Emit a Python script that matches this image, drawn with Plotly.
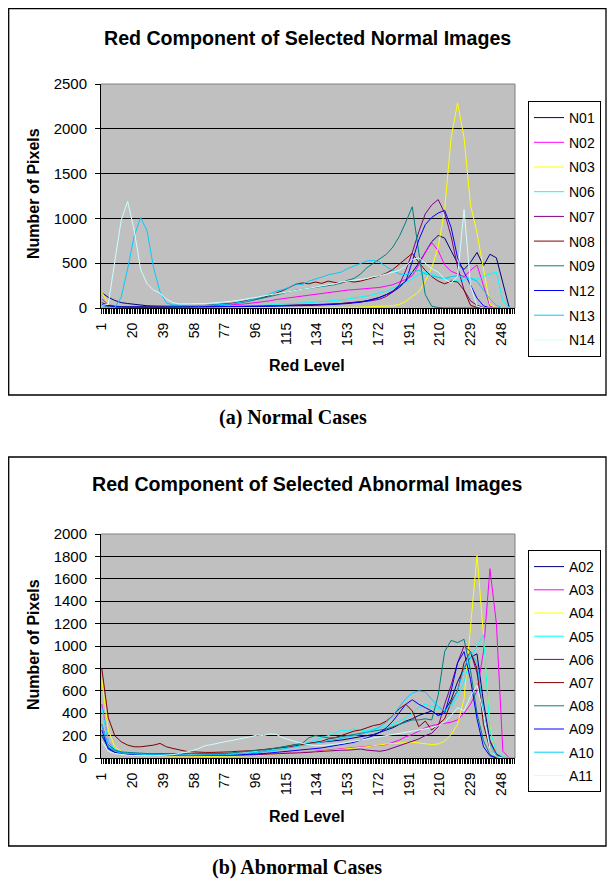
import plotly.graph_objects as go

# ---------------- data ----------------
LEVELS = [1, 5, 9, 13, 17, 21, 25, 29,
          33, 37, 41, 45, 49, 53, 57, 61,
          65, 69, 73, 77, 81, 85, 89, 93,
          97, 101, 105, 109, 113, 117, 121, 125,
          129, 133, 137, 141, 145, 149, 153, 157,
          161, 165, 169, 173, 177, 181, 185, 189,
          193, 197, 201, 205, 209, 213, 217, 221,
          225, 229, 233, 237, 241, 245, 249, 253,
          256]

X_TICK_LABELS = [1, 20, 39, 58, 77, 96, 115, 134, 153, 172, 191, 210, 229, 248]
ALL_CATEGORIES = list(range(1, 257))
Y1_TICKS = [0, 500, 1000, 1500, 2000, 2500]
Y2_TICKS = [0, 200, 400, 600, 800, 1000, 1200, 1400, 1600, 1800, 2000]

NORMAL_NAMES = ["N01", "N02", "N03", "N06", "N07", "N08", "N09", "N12", "N13", "N14"]
ABNORMAL_NAMES = ["A02", "A03", "A04", "A05", "A06", "A07", "A08", "A09", "A10", "A11"]

N01 = [170, 120, 85, 60, 50, 40, 32, 25,
       22, 18, 15, 14, 12, 12, 10, 12,
       10, 12, 14, 12, 15, 14, 16, 18,
       18, 20, 22, 20, 24, 25, 28, 30,
       32, 35, 38, 42, 45, 50, 55, 62,
       70, 82, 100, 120, 150, 180, 230, 300,
       400, 500, 620, 740, 810, 780, 640, 500,
       430, 510, 620, 470, 600, 560, 280, 0,
       0]
N02 = [100, 40, 18, 10, 8, 8, 8, 10,
       10, 12, 12, 14, 15, 16, 18, 20,
       22, 25, 28, 32, 36, 40, 45, 52,
       60, 70, 80, 95, 105, 115, 125, 135,
       140, 150, 160, 170, 180, 190, 200, 205,
       210, 215, 220, 230, 245, 260, 290, 320,
       360, 480, 620, 730, 640, 480, 410, 380,
       350, 420, 480, 250, 20, 0, 0, 0,
       0]
N03 = [180, 40, 8, 2, 0, 0, 0, 0,
       0, 0, 0, 0, 0, 0, 0, 0,
       0, 0, 0, 0, 0, 0, 0, 0,
       0, 0, 0, 0, 0, 0, 0, 2,
       2, 3, 3, 4, 5, 5, 6, 8,
       10, 12, 14, 16, 20, 25, 40, 75,
       130, 180, 300, 450, 680, 1100, 1900, 2290,
       1900, 1150, 840, 450, 40, 0, 0, 0,
       0]
N06 = [60, 25, 12, 8, 6, 6, 5, 5,
       5, 6, 6, 8, 8, 10, 10, 12,
       12, 14, 15, 16, 18, 20, 22, 25,
       28, 30, 35, 38, 42, 45, 50, 55,
       60, 65, 70, 75, 80, 90, 100, 110,
       120, 135, 150, 170, 190, 220, 250, 290,
       330, 370, 400, 380, 350, 330, 320, 300,
       310, 340, 320, 350, 380, 400, 80, 0,
       0]
N07 = [30, 15, 10, 8, 8, 8, 8, 8,
       8, 8, 10, 10, 10, 12, 12, 12,
       14, 14, 16, 16, 18, 18, 20, 20,
       22, 22, 25, 25, 28, 28, 30, 32,
       34, 36, 38, 40, 45, 50, 55, 60,
       65, 75, 85, 100, 130, 180, 260, 420,
       620, 850, 1050, 1150, 1210, 1060, 800, 460,
       200, 80, 30, 5, 0, 0, 0, 0,
       0]
N08 = [60, 30, 20, 15, 14, 14, 15, 15,
       16, 16, 18, 18, 20, 20, 22, 25,
       28, 34, 38, 45, 52, 62, 75, 90,
       105, 120, 140, 165, 195, 230, 265, 280,
       270, 290, 275, 300, 285, 280, 300, 290,
       300, 320, 340, 360, 390, 430, 490, 550,
       610, 510, 420, 350, 300, 270, 300, 290,
       200, 30, 5, 0, 0, 0, 0, 0,
       0]
N09 = [30, 20, 15, 12, 10, 10, 10, 10,
       10, 10, 12, 14, 15, 18, 20, 22,
       25, 28, 32, 38, 45, 55, 65, 80,
       95, 110, 125, 145, 165, 185, 200, 210,
       220, 230, 240, 250, 260, 280, 310, 330,
       380, 450, 500, 540, 600, 680, 800, 960,
       1130, 620, 150, 20, 5, 0, 0, 0,
       0, 0, 0, 0, 0, 0, 0, 0,
       0]
N12 = [40, 25, 15, 12, 10, 10, 10, 10,
       10, 10, 10, 10, 10, 10, 12, 12,
       12, 12, 14, 14, 14, 15, 16, 16,
       18, 18, 20, 20, 22, 22, 24, 26,
       28, 30, 32, 35, 40, 45, 50, 55,
       65, 80, 95, 120, 150, 190, 240, 300,
       520, 760, 930, 1010, 1060, 1090, 900, 560,
       400, 260, 110, 25, 0, 0, 0, 0,
       0]
N13 = [10, 5, 5, 120, 440, 800, 1010, 860,
       450, 180, 55, 35, 30, 25, 28, 25,
       30, 35, 32, 40, 45, 60, 70, 90,
       110, 130, 160, 190, 205, 230, 270, 260,
       300, 320, 345, 370, 385, 400, 440, 470,
       500, 525, 530, 510, 460, 420, 380, 370,
       400, 420, 380, 360, 340, 330, 350, 360,
       340, 330, 300, 200, 100, 30, 0, 0,
       0]
N14 = [30, 40, 520, 980, 1190, 870, 430, 270,
       200, 165, 100, 60, 45, 45, 45, 50,
       50, 55, 60, 65, 75, 85, 95, 110,
       120, 135, 150, 160, 170, 185, 200, 210,
       220, 235, 250, 260, 270, 290, 300, 310,
       320, 330, 350, 360, 380, 400, 420, 470,
       540, 560, 500, 440, 400, 320, 280, 350,
       1100, 250, 20, 0, 0, 0, 0, 0,
       0]

A02 = [200, 90, 50, 40, 35, 30, 30, 28,
       28, 25, 25, 25, 25, 22, 22, 25,
       25, 28, 28, 30, 30, 32, 35, 38,
       50, 60, 70, 85, 100, 110, 120, 125,
       130, 135, 140, 145, 150, 160, 170, 180,
       190, 200, 210, 230, 250, 270, 300, 330,
       350, 380, 400, 420, 380, 420, 520, 680,
       800, 900, 930, 500, 150, 30, 0, 0,
       0]
A03 = [480, 150, 70, 50, 40, 35, 30, 30,
       28, 25, 25, 22, 22, 20, 20, 20,
       20, 20, 22, 22, 24, 25, 25, 28,
       30, 32, 35, 38, 40, 45, 48, 50,
       55, 60, 65, 70, 75, 80, 85, 90,
       95, 100, 105, 110, 120, 140, 160, 190,
       210, 240, 270, 290, 300, 310, 320, 340,
       400, 480, 600, 950, 1690, 1200, 60, 0,
       0]
A04 = [700, 250, 100, 60, 45, 35, 30, 25,
       22, 20, 20, 18, 18, 16, 15, 15,
       15, 15, 15, 15, 16, 18, 20, 22,
       25, 28, 30, 32, 35, 38, 40, 45,
       50, 55, 60, 65, 70, 75, 80, 90,
       95, 100, 110, 120, 125, 130, 135, 140,
       140, 135, 125, 120, 125, 150, 210, 300,
       530, 1150, 1810, 1100, 270, 10, 0, 0,
       0]
A05 = [450, 150, 80, 55, 45, 40, 38, 35,
       32, 30, 30, 28, 28, 26, 25, 25,
       25, 26, 28, 30, 32, 35, 40, 45,
       50, 60, 70, 80, 90, 100, 110, 125,
       140, 160, 180, 200, 220, 250, 240, 260,
       250, 240, 260, 270, 280, 300, 330, 360,
       400, 450, 480, 460, 440, 420, 450, 550,
       680, 900, 1000, 1100, 250, 50, 10, 0,
       0]
A06 = [300, 100, 60, 45, 40, 35, 30, 30,
       28, 26, 25, 25, 24, 22, 22, 22,
       22, 22, 22, 24, 24, 25, 26, 28,
       30, 32, 34, 36, 38, 40, 45, 48,
       50, 55, 60, 60, 65, 70, 70, 75,
       80, 70, 65, 60, 70, 90, 110, 130,
       150, 170, 200, 220, 280, 480, 650, 850,
       1000, 950, 760, 400, 155, 36, 0, 0,
       0]
A07 = [800, 360, 200, 145, 115, 100, 100, 105,
       115, 130, 100, 85, 70, 60, 55, 50,
       50, 50, 50, 55, 55, 60, 60, 65,
       70, 75, 80, 85, 90, 100, 110, 120,
       130, 140, 150, 170, 180, 200, 220, 240,
       250, 270, 290, 300, 330, 380, 440, 480,
       420, 280, 330, 250, 300, 350, 500, 600,
       850, 950, 800, 300, 80, 10, 0, 0,
       0]
A08 = [200, 120, 70, 55, 50, 45, 40, 40,
       40, 40, 38, 36, 35, 35, 35, 35,
       35, 35, 38, 40, 45, 50, 55, 60,
       65, 70, 80, 90, 100, 110, 120, 130,
       180, 200, 190, 180, 180, 190, 200, 210,
       220, 230, 240, 250, 260, 280, 300, 320,
       340, 340, 350, 340, 560, 950, 1050, 1030,
       1060, 780, 400, 155, 30, 0, 0, 0,
       0]
A09 = [250, 80, 50, 40, 35, 30, 30, 28,
       28, 26, 25, 25, 24, 24, 22, 22,
       22, 24, 24, 25, 26, 28, 30, 32,
       35, 40, 45, 50, 55, 60, 65, 70,
       75, 80, 90, 100, 110, 120, 130, 140,
       160, 180, 200, 230, 270, 330, 400, 480,
       520, 480, 450, 420, 380, 400, 600, 850,
       950, 700, 350, 100, 20, 0, 0, 0,
       0]
A10 = [300, 100, 60, 45, 40, 35, 32, 30,
       30, 28, 28, 26, 25, 25, 25, 25,
       25, 26, 28, 30, 32, 35, 38, 42,
       48, 55, 60, 70, 80, 90, 100, 110,
       120, 130, 140, 150, 160, 175, 190, 200,
       210, 230, 250, 280, 320, 380, 450, 530,
       580, 600, 590, 520, 460, 420, 480, 600,
       800, 950, 850, 400, 120, 20, 0, 0,
       0]
A11 = [150, 60, 40, 30, 25, 22, 20, 20,
       20, 22, 25, 30, 40, 50, 65, 85,
       110, 120, 135, 145, 155, 165, 175, 190,
       205, 200, 215, 210, 180, 160, 145, 130,
       120, 110, 110, 115, 120, 130, 140, 150,
       160, 170, 180, 190, 200, 210, 220, 230,
       240, 250, 260, 270, 290, 320, 380, 450,
       420, 550, 650, 400, 80, 10, 0, 0,
       0]

NORMAL_SERIES = [N01, N02, N03, N06, N07, N08, N09, N12, N13, N14]
ABNORMAL_SERIES = [A02, A03, A04, A05, A06, A07, A08, A09, A10, A11]

# ---------------- styles / layout ----------------
SERIES_COLORS = ["#000080", "#FF00FF", "#FFFF00", "#00FFFF", "#800080",
                 "#800000", "#008080", "#0000FF", "#00CCFF", "#CCFFFF"]
FONT = "Arial, Liberation Sans, sans-serif"
SERIF = "Times New Roman, Liberation Serif, serif"

# the page body has an 8px margin: the figure is sized so the page is 615x896,
# and all positions below are given in page pixels
PAGE_OFF = 8
W, H = 615 - 2 * PAGE_OFF, 896 - 2 * PAGE_OFF


def fx(p):
    return (p - PAGE_OFF) / W


def fy(p):
    return 1 - (p - PAGE_OFF) / H


fig = go.Figure()

for name, vals, col in zip(NORMAL_NAMES, NORMAL_SERIES, SERIES_COLORS):
    fig.add_trace(go.Scatter(x=LEVELS, y=vals, mode="lines", name=name,
                             line=dict(color=col, width=1),
                             xaxis="x", yaxis="y", legend="legend",
                             legendgroup=name))
for name, vals, col in zip(ABNORMAL_NAMES, ABNORMAL_SERIES, SERIES_COLORS):
    fig.add_trace(go.Scatter(x=LEVELS, y=vals, mode="lines", name=name,
                             line=dict(color=col, width=1),
                             xaxis="x2", yaxis="y2", legend="legend2",
                             legendgroup=name))

tick_text = [str(c) if c in X_TICK_LABELS else "" for c in ALL_CATEGORIES]

xcommon = dict(domain=[fx(101), fx(515)], range=[0.5, 256.5],
               tickmode="array", tickvals=ALL_CATEGORIES, ticktext=tick_text,
               tickangle=-90, ticks="outside", ticklen=5, tickwidth=1,
               tickcolor="black", showline=True, linecolor="black", linewidth=1,
               showgrid=False, zeroline=False, ticklabelstandoff=3,
               automargin=False,
               tickfont=dict(family=FONT, size=14, color="black"))
ycommon = dict(ticks="outside", ticklen=5, tickwidth=1, tickcolor="black",
               showline=True, linecolor="black", linewidth=1,
               showgrid=True, gridcolor="black", gridwidth=1, zeroline=False,
               ticklabelstandoff=5, automargin=False,
               tickfont=dict(family=FONT, size=15, color="black"))

legcommon = dict(xanchor="left", yanchor="top", bgcolor="white",
                 bordercolor="black", borderwidth=1,
                 font=dict(family=FONT, size=14, color="black"))

fig.update_layout(
    width=W, height=H, autosize=False,
    margin=dict(l=0, r=0, t=0, b=0, pad=0, autoexpand=False),
    paper_bgcolor="white", plot_bgcolor="#C0C0C0",
    showlegend=True,
    xaxis=dict(anchor="y", **xcommon),
    xaxis2=dict(anchor="y2", **xcommon),
    yaxis=dict(anchor="x", domain=[fy(308), fy(84)], range=[0, 2500],
               tickmode="array", tickvals=Y1_TICKS, **ycommon),
    yaxis2=dict(anchor="x2", domain=[fy(758), fy(534)], range=[0, 2000],
                tickmode="array", tickvals=Y2_TICKS, **ycommon),
    legend=dict(x=fx(528), y=fy(101), tracegroupgap=3.5, **legcommon),
    legend2=dict(x=fx(528), y=fy(550), tracegroupgap=2, **legcommon),
)

shapes = []
# outer chart frames
for top, bottom in [(8.7, 395), (457, 846)]:
    shapes.append(dict(type="rect", xref="paper", yref="paper",
                       x0=fx(8.7), x1=fx(606), y0=fy(bottom), y1=fy(top),
                       line=dict(color="black", width=1.3), layer="below"))
# grey plot-area border (top and right)
for ya, xa in [("y", "x"), ("y2", "x2")]:
    shapes.append(dict(type="line", xref=f"{xa} domain", yref=f"{ya} domain",
                       x0=0, x1=1, y0=1, y1=1,
                       line=dict(color="#808080", width=1), layer="above"))
    shapes.append(dict(type="line", xref=f"{xa} domain", yref=f"{ya} domain",
                       x0=1, x1=1, y0=0, y1=1,
                       line=dict(color="#808080", width=1), layer="above"))
fig.update_layout(shapes=shapes)


def label(text, x, y, size, family=FONT, angle=0):
    return dict(text=text, x=fx(x), y=fy(y), xref="paper", yref="paper",
                xanchor="center", yanchor="middle", showarrow=False,
                textangle=angle, font=dict(family=family, size=size, color="black"))


ann = [
    label("<b>Red Component of Selected Normal Images</b>", 307, 38, 19.6),
    label("<b>Red Component of Selected Abnormal Images</b>", 307, 484, 19.6),
    label("<b>Number of Pixels</b>", 33, 194, 16, angle=-90),
    label("<b>Number of Pixels</b>", 33, 645, 16, angle=-90),
    label("<b>Red Level</b>", 307, 366, 16),
    label("<b>Red Level</b>", 307, 816, 16),
    label("<b>(a) Normal Cases</b>", 293, 418, 20, family=SERIF),
    label("<b>(b) Abnormal Cases</b>", 297, 867, 20, family=SERIF),
]
fig.update_layout(annotations=ann)

fig.write_html("out.html")
